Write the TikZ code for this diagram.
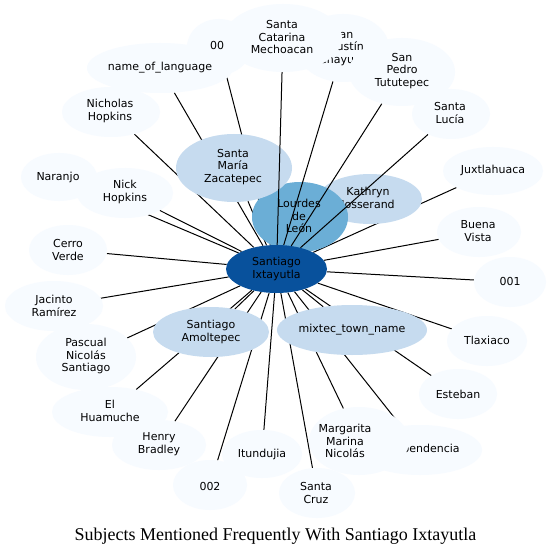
\documentclass[tikz,border=0pt]{standalone}
\usepackage{fontspec}
\setmainfont{DejaVu Sans}
\newfontfamily\titlefont{Liberation Serif}
\usetikzlibrary{shapes.geometric}
\definecolor{cdark}{HTML}{08519C}
\definecolor{cmid}{HTML}{6BAED6}
\definecolor{clight}{HTML}{C6DBEF}
\definecolor{cpale}{HTML}{F7FBFF}
\tikzset{
  blob/.style={ellipse, inner sep=0pt, draw=none},
  lbl/.style={align=center, inner sep=0pt, font=\fontsize{11}{12.4}\selectfont, text=black},
  link/.style={line width=1pt, black},
}
\begin{document}
\begin{tikzpicture}[x=1pt,y=-1pt]
\useasboundingbox[fill=white] (0,0) rectangle (552,556);
% ---------- node outlines used for the connectors ----------
\path
  (276.5,269) node[blob, minimum width=101, minimum height=48] (si0) {}
  (300,217) node[blob, minimum width=96, minimum height=70] (ld0) {}
  (370,199) node[blob, minimum width=104, minimum height=50] (kj0) {}
  (234,168) node[blob, minimum width=116, minimum height=68] (smz0) {}
  (211,332) node[blob, minimum width=116, minimum height=50] (sam0) {}
  (352,330) node[blob, minimum width=150, minimum height=50] (mtn0) {}
  (160,68) node[blob, minimum width=146, minimum height=50] (nol0) {}
  (219,47) node[blob, minimum width=64, minimum height=56] (d000) {}
  (283,38) node[blob, minimum width=118, minimum height=68] (scm0) {}
  (343,48) node[blob, minimum width=92, minimum height=68] (sac0) {}
  (402,72) node[blob, minimum width=106, minimum height=68] (spt0) {}
  (451,114) node[blob, minimum width=78, minimum height=50] (slu0) {}
  (493,171) node[blob, minimum width=100, minimum height=48] (jux0) {}
  (479,232) node[blob, minimum width=84, minimum height=50] (bvi0) {}
  (510,282) node[blob, minimum width=72, minimum height=50] (n0010) {}
  (487,341) node[blob, minimum width=80, minimum height=50] (tla0) {}
  (458,394) node[blob, minimum width=78, minimum height=50] (est0) {}
  (420,450) node[blob, minimum width=124, minimum height=50] (ind0) {}
  (359,441) node[blob, minimum width=100, minimum height=68] (mmn0) {}
  (317,493) node[blob, minimum width=76, minimum height=50] (scr0) {}
  (262,454) node[blob, minimum width=80, minimum height=48] (itu0) {}
  (210,485) node[blob, minimum width=74, minimum height=50] (n0020) {}
  (159,445) node[blob, minimum width=94, minimum height=50] (hbr0) {}
  (110,412) node[blob, minimum width=116, minimum height=50] (elh0) {}
  (86,357) node[blob, minimum width=100, minimum height=66] (pns0) {}
  (54,306) node[blob, minimum width=98, minimum height=50] (jra0) {}
  (68,250) node[blob, minimum width=78, minimum height=50] (cve0) {}
  (59,177) node[blob, minimum width=76, minimum height=48] (nar0) {}
  (125,193) node[blob, minimum width=96, minimum height=50] (nhk0) {}
  (111,112) node[blob, minimum width=98, minimum height=50] (nih0) {};
% ---------- layer A edges ----------
\foreach \t in {kj0,smz0,sam0,mtn0,nol0,d000,jux0,bvi0,n0010,tla0,est0,ind0,mmn0,scr0,itu0,n0020,hbr0,elh0,pns0,jra0,cve0,nar0,nhk0,nih0}
  \draw[link] (si0) -- (\t);
% ---------- layer B nodes ----------
\node[blob, fill=clight, minimum width=104, minimum height=50] (kj) at (kj0) {};
\node[lbl] (kjt) at (368,199) {Kathryn\\Josserand};
\node[blob, fill=cmid, minimum width=96, minimum height=70] (ld) at (ld0) {};
\node[lbl] (ldt) at (299,216) {Lourdes\\de\\León};
\node[blob, fill=clight, minimum width=116, minimum height=68] (smz) at (smz0) {};
\node[lbl] (smzt) at (233,167) {Santa\\María\\Zacatepec};
\node[blob, fill=cdark, minimum width=101, minimum height=48] (si) at (si0) {};
\node[lbl] (sit) at (276.5,269) {Santiago\\Ixtayutla};
% ---------- layer C edges ----------
\foreach \t in {scm0,sac0,spt0,slu0}
  \draw[link] (si0) -- (\t);
% ---------- layer D nodes ----------
\node[blob, fill=clight, minimum width=116, minimum height=50] (sam) at (sam0) {};
\node[lbl] (samt) at (211,332) {Santiago\\Amoltepec};
\node[blob, fill=clight, minimum width=150, minimum height=50] (mtn) at (mtn0) {};
\node[lbl] (mtnt) at (352,330) {mixtec\_town\_name};
\node[blob, fill=cpale, minimum width=64, minimum height=56] (d00) at (d000) {};
\node[lbl] (d00t) at (217,45) {00};
\node[blob, fill=cpale, minimum width=146, minimum height=50] (nol) at (nol0) {};
\node[lbl] (nolt) at (160,68) {name\_of\_language};
\node[blob, fill=cpale, minimum width=92, minimum height=68] (sac) at (sac0) {};
\node[lbl] (sact) at (343,48) {San\\Agustín\\Chayuco};
\node[blob, fill=cpale, minimum width=118, minimum height=68] (scm) at (scm0) {};
\node[lbl] (scmt) at (282,37) {Santa\\Catarina\\Mechoacan};
\node[blob, fill=cpale, minimum width=106, minimum height=68] (spt) at (spt0) {};
\node[lbl] (sptt) at (402,71) {San\\Pedro\\Tututepec};
\node[blob, fill=cpale, minimum width=78, minimum height=50] (slu) at (slu0) {};
\node[lbl] (slut) at (450,113) {Santa\\Lucía};
\node[blob, fill=cpale, minimum width=100, minimum height=48] (jux) at (jux0) {};
\node[lbl] (juxt) at (493,170) {Juxtlahuaca};
\node[blob, fill=cpale, minimum width=84, minimum height=50] (bvi) at (bvi0) {};
\node[lbl] (bvit) at (478,231) {Buena\\Vista};
\node[blob, fill=cpale, minimum width=72, minimum height=50] (n001) at (n0010) {};
\node[lbl] (n001t) at (510,281) {001};
\node[blob, fill=cpale, minimum width=80, minimum height=50] (tla) at (tla0) {};
\node[lbl] (tlat) at (487,340) {Tlaxiaco};
\node[blob, fill=cpale, minimum width=78, minimum height=50] (est) at (est0) {};
\node[lbl] (estt) at (458,394) {Esteban};
\node[blob, fill=cpale, minimum width=124, minimum height=50] (ind) at (ind0) {};
\node[lbl] (indt) at (419,449) {Independencia};
\node[blob, fill=cpale, minimum width=100, minimum height=68] (mmn) at (mmn0) {};
\node[lbl] (mmnt) at (345,441) {Margarita\\Marina\\Nicolás};
\node[blob, fill=cpale, minimum width=76, minimum height=50] (scr) at (scr0) {};
\node[lbl] (scrt) at (316,493) {Santa\\Cruz};
\node[blob, fill=cpale, minimum width=80, minimum height=48] (itu) at (itu0) {};
\node[lbl] (itut) at (262,454) {Itundujia};
\node[blob, fill=cpale, minimum width=74, minimum height=50] (n002) at (n0020) {};
\node[lbl] (n002t) at (210,486) {002};
\node[blob, fill=cpale, minimum width=94, minimum height=50] (hbr) at (hbr0) {};
\node[lbl] (hbrt) at (159,444) {Henry\\Bradley};
\node[blob, fill=cpale, minimum width=116, minimum height=50] (elh) at (elh0) {};
\node[lbl] (elht) at (110,411) {El\\Huamuche};
\node[blob, fill=cpale, minimum width=100, minimum height=66] (pns) at (pns0) {};
\node[lbl] (pnst) at (86,356) {Pascual\\Nicolás\\Santiago};
\node[blob, fill=cpale, minimum width=98, minimum height=50] (jra) at (jra0) {};
\node[lbl] (jrat) at (54,306) {Jacinto\\Ramírez};
\node[blob, fill=cpale, minimum width=78, minimum height=50] (cve) at (cve0) {};
\node[lbl] (cvet) at (68,250) {Cerro\\Verde};
\node[blob, fill=cpale, minimum width=76, minimum height=48] (nar) at (nar0) {};
\node[lbl] (nart) at (58,177) {Naranjo};
\node[blob, fill=cpale, minimum width=96, minimum height=50] (nhk) at (nhk0) {};
\node[lbl] (nhkt) at (125,192) {Nick\\Hopkins};
\node[blob, fill=cpale, minimum width=98, minimum height=50] (nih) at (nih0) {};
\node[lbl] (niht) at (110,111) {Nicholas\\Hopkins};
% ---------- title ----------
\node[font=\titlefont\fontsize{18}{21}\selectfont, anchor=base, inner sep=0pt] (title) at (275.5,540) {Subjects Mentioned Frequently With Santiago Ixtayutla};
\end{tikzpicture}
\end{document}
